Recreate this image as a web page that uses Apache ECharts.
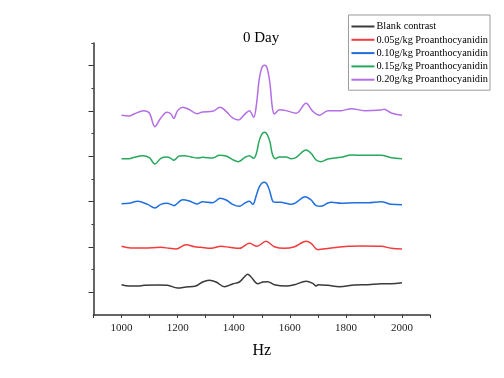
<!DOCTYPE html>
<html>
<head>
<meta charset="utf-8">
<script src="https://cdn.jsdelivr.net/npm/echarts@6/dist/echarts.min.js"></script>
<style>html,body{margin:0;padding:0;background:#fff}#c{width:504px;height:378px}</style>
</head>
<body>
<div id="c"></div>
<script>
const seriesNames = ['Blank contrast','0.05g/kg Proanthocyanidin','0.10g/kg Proanthocyanidin','0.15g/kg Proanthocyanidin','0.20g/kg Proanthocyanidin'];
const xTicks = [1000,1200,1400,1600,1800,2000];

const blankHz = [1000,1027,1057,1081,1129,1164,1200,1230,1265,1289,1313,1337,1367,1396,1420,1438,1450,1462,1486,1504,1521,1545,1587,1617,1658,1682,1694,1702,1736,1777,1831,1879,1926,1962,2000];
const blankVal = [0.669,0.640,0.640,0.654,0.662,0.654,0.596,0.618,0.640,0.728,0.765,0.728,0.625,0.684,0.728,0.838,0.897,0.838,0.691,0.728,0.735,0.669,0.640,0.669,0.743,0.699,0.640,0.669,0.654,0.625,0.662,0.669,0.691,0.691,0.713];

const c05Hz = [1000,1033,1081,1140,1170,1194,1230,1260,1283,1319,1355,1385,1420,1456,1483,1515,1545,1581,1617,1658,1676,1700,1718,1748,1807,1855,1926,1962,2000];
const c05Val = [1.515,1.478,1.478,1.493,1.471,1.456,1.552,1.507,1.493,1.471,1.515,1.493,1.471,1.581,1.515,1.625,1.507,1.471,1.507,1.625,1.581,1.441,1.456,1.478,1.515,1.522,1.515,1.471,1.456];

const c10Hz = [1000,1027,1057,1093,1119,1140,1162,1176,1186,1218,1242,1269,1289,1325,1352,1373,1396,1420,1440,1456,1468,1481,1490,1500,1510,1519,1529,1540,1550,1569,1587,1605,1623,1655,1676,1694,1710,1736,1748,1783,1831,1879,1926,1962,2000];
const c10Val = [2.456,2.463,2.508,2.441,2.360,2.441,2.463,2.441,2.412,2.544,2.515,2.449,2.500,2.478,2.574,2.537,2.441,2.397,2.471,2.508,2.441,2.647,2.809,2.905,2.927,2.883,2.721,2.500,2.485,2.485,2.463,2.441,2.485,2.610,2.537,2.412,2.397,2.471,2.485,2.463,2.478,2.478,2.500,2.441,2.434];

const c15Hz = [1000,1027,1045,1075,1099,1119,1140,1162,1176,1186,1206,1224,1248,1271,1289,1325,1349,1373,1396,1417,1440,1456,1471,1481,1490,1500,1510,1519,1529,1538,1548,1563,1587,1605,1623,1658,1676,1694,1710,1736,1783,1819,1867,1926,1962,2000];
const c15Val = [3.449,3.449,3.478,3.515,3.471,3.331,3.456,3.486,3.456,3.412,3.508,3.515,3.486,3.463,3.478,3.463,3.522,3.508,3.427,3.383,3.478,3.515,3.456,3.566,3.824,3.986,4.030,3.986,3.824,3.544,3.449,3.486,3.486,3.449,3.478,3.640,3.566,3.419,3.383,3.441,3.478,3.530,3.522,3.522,3.471,3.449];

const c20Hz = [1000,1027,1045,1079,1099,1119,1140,1162,1176,1186,1200,1218,1242,1269,1289,1325,1352,1373,1396,1417,1438,1456,1471,1481,1490,1500,1510,1519,1529,1538,1545,1563,1587,1623,1658,1682,1706,1736,1783,1819,1867,1926,1936,1962,2000];
const c20Val = [4.405,4.390,4.434,4.508,4.456,4.155,4.346,4.471,4.434,4.339,4.508,4.581,4.530,4.441,4.478,4.493,4.581,4.493,4.346,4.302,4.420,4.508,4.361,4.640,5.155,5.449,5.508,5.449,5.118,4.567,4.434,4.530,4.508,4.449,4.670,4.493,4.405,4.508,4.508,4.552,4.508,4.522,4.537,4.456,4.405];

const colors = ['#3a3a3a','#f23b3b','#1f6fe0','#27a85c','#b46ee6'];
const hzSets = [blankHz,c05Hz,c10Hz,c15Hz,c20Hz];
const valSets = [blankVal,c05Val,c10Val,c15Val,c20Val];

const serif = '"Liberation Serif","DejaVu Serif",serif';
const chart = echarts.init(document.getElementById('c'), null, {renderer:'canvas'});

const series = seriesNames.map((n,i)=>({
  name:n, type:'line', symbol:'none', smooth:0.35,
  xAxisIndex:0, yAxisIndex:0,
  lineStyle:{color:colors[i], width:1.5},
  itemStyle:{color:colors[i]},
  data: hzSets[i].map((h,k)=>[h, valSets[i][k]])
}));

chart.setOption({
  animation:false,
  backgroundColor:'#fff',
  title:{text:'0 Day', left:243, top:31, padding:0,
    textStyle:{fontFamily:serif, fontSize:15, fontWeight:'normal', color:'#000'}},
  legend:{
    orient:'vertical', right:14, top:15,
    padding:[6,2,5,3], itemGap:2.3, itemWidth:23, itemHeight:2,
    icon:'rect',
    borderColor:'#9a9a9a', borderWidth:1, backgroundColor:'#fff',
    textStyle:{fontFamily:serif, fontSize:10.3, lineHeight:11, color:'#000', padding:[0,0,0,-3]},
    data: seriesNames
  },
  grid:{left:93.5, right:74, top:43, bottom:63, containLabel:false},
  xAxis:{
    type:'value', min:900, max:2100, interval:100,
    name:'Hz', nameLocation:'middle', nameGap:28,
    nameTextStyle:{fontFamily:serif, fontSize:16, color:'#000'},
    axisLine:{show:true, lineStyle:{color:'#333', width:1.5}},
    axisTick:{show:true, inside:false, length:3, lineStyle:{color:'#333', width:1}},
    axisLabel:{margin:8, fontFamily:serif, fontSize:11, color:'#222',
      formatter:(v)=> xTicks.indexOf(v) >= 0 ? String(v) : ''},
    splitLine:{show:false}
  },
  yAxis:[{
    type:'value', min:0, max:6, position:'left',
    axisLine:{show:true, onZero:false, lineStyle:{color:'#333', width:1.5}},
    axisTick:{show:true, length:5, customValues:[0.5,1.5,2.5,3.5,4.5,5.5], lineStyle:{color:'#333', width:1}},
    axisLabel:{show:false}, splitLine:{show:false}
  },{
    type:'value', min:0, max:6, position:'left',
    axisLine:{show:false},
    axisTick:{show:true, length:2, customValues:[1,2,3,4,5,6], lineStyle:{color:'#333', width:1}},
    axisLabel:{show:false}, splitLine:{show:false}
  }],
  series: series
});
</script>
</body>
</html>
